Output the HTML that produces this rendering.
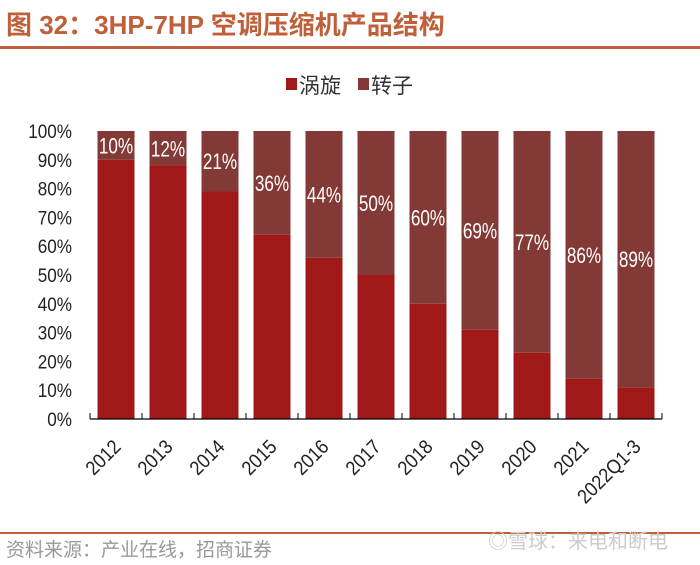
<!DOCTYPE html>
<html><head><meta charset="utf-8"><style>
body{margin:0;background:#fff;width:700px;height:560px;overflow:hidden;font-family:"Liberation Sans","Noto Sans CJK SC",sans-serif}
</style></head><body>
<svg width="700" height="560">
<text x="6" y="34" font-size="26" font-weight="bold" fill="#C0603A" font-family="Liberation Sans,Noto Sans CJK SC,sans-serif">图 32：3HP-7HP 空调压缩机产品结构</text>
<rect x="0" y="46" width="700" height="3" fill="#C0603A"/>
<g>
<rect x="286" y="78" width="11" height="12" fill="#A01818"/>
<text x="299" y="93" font-size="21" fill="#333">涡旋</text>
<rect x="358" y="78" width="11" height="12" fill="#833A36"/>
<text x="371" y="93" font-size="21" fill="#333">转子</text>
</g>
<g id="plot"></g>
<rect x="0" y="532" width="700" height="2" fill="#C0603A"/>
<text x="6" y="556" font-size="19" fill="#999">资料来源：产业在线，招商证券</text>
<text x="488" y="548" font-size="20" fill="#ccc">◎雪球：来电和断电</text>
</svg>
<script>
const categories=["2012","2013","2014","2015","2016","2017","2018","2019","2020","2021","2022Q1-3"];
const rotary=[10,12,21,36,44,50,60,69,77,86,89];
const yTicks=[0,10,20,30,40,50,60,70,80,90,100];
const NS="http://www.w3.org/2000/svg";
const g=document.getElementById('plot');
const x0=90,x1=662,yBase=419,yTop=131;
const bw=(x1-x0)/categories.length;
const y=v=>yBase-(v/100)*(yBase-yTop);
function mk(t,a){const e=document.createElementNS(NS,t);for(const k in a)e.setAttribute(k,a[k]);g.appendChild(e);return e;}
yTicks.forEach(t=>{const e=mk('text',{transform:`translate(72,${y(t)+7}) scale(0.9,1)`,'font-size':19,'text-anchor':'end',fill:'#222'});e.textContent=t+'%';

});
categories.forEach((c,i)=>{
const cx=x0+bw*(i+0.5),w=37,r=rotary[i];
const b1=mk('rect',{x:cx-w/2,y:y(100-r),width:w,height:yBase-y(100-r),fill:'#A01818'});


const b2=mk('rect',{x:cx-w/2,y:y(100),width:w,height:y(100-r)-y(100),fill:'#833A36'});


const lb=mk('text',{transform:`translate(${cx},${(y(100)+y(100-r))/2+8}) scale(0.78,1)`,'font-size':22,'text-anchor':'middle',fill:'#fff'});
lb.textContent=r+'%';


const tk=mk('text',{transform:`translate(${cx+6},${448}) rotate(-45) scale(0.9,1)`,'font-size':20,'text-anchor':'end',fill:'#222'});
tk.textContent=c;


});
for(let i=0;i<=categories.length;i++){const l=mk('line',{x1:x0+bw*i,x2:x0+bw*i,y1:yBase,y2:yBase-6,stroke:'#000'});

}
const ax=mk('line',{x1:x0,x2:x1,y1:yBase,y2:yBase,stroke:'#000','stroke-width':1.2});


</script>
</body></html>
